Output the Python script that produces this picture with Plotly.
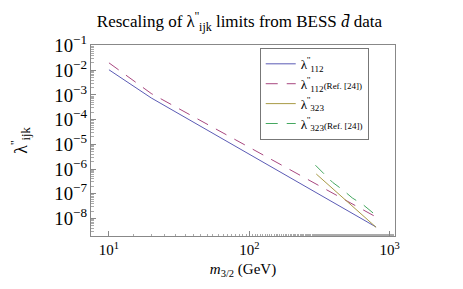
import plotly.graph_objects as go

# λ''112 (this work)
m_112 = [10, 14, 20, 800]
lam_112 = [1.05e-2, 2.9e-3, 7.6e-4, 4.5e-9]
# λ''112 (Ref. [24])
m_112_ref = [10, 14, 20, 800]
lam_112_ref = [2.0e-2, 5.1e-3, 1.15e-3, 1.15e-8]
# λ''323 (this work)
m_323 = [300, 800]
lam_323 = [6.3e-7, 4.4e-9]
# λ''323 (Ref. [24])
m_323_ref = [296, 342, 392, 467, 541, 647, 750, 791]
lam_323_ref = [1.43e-6, 6.3e-7, 2.9e-7, 1.39e-7, 6.8e-8, 3.6e-8, 1.8e-8, 1.4e-8]

x_tickvals = [10, 100, 1000]
x_ticktext = ["10<sup>1</sup>", "10<sup>2</sup>", "10<sup>3</sup>"]

BLUE = "#5b5bb5"
MAG = "#a8477f"
OLIVE = "#a89a45"
GREEN = "#45a860"

SERIF = "Liberation Serif, Times New Roman, serif"

names = [
    "λ<sup>''</sup><sub>112</sub>",
    "λ<sup>''</sup><sub>112</sub><span style='font-size:9px'>(Ref. [24])</span>",
    "λ<sup>''</sup><sub>323</sub>",
    "λ<sup>''</sup><sub>323</sub><span style='font-size:9px'>(Ref. [24])</span>",
]

fig = go.Figure()
fig.add_trace(go.Scatter(x=m_112, y=lam_112, mode="lines", name=names[0],
                         line=dict(color=BLUE, width=1)))
fig.add_trace(go.Scatter(x=m_112_ref, y=lam_112_ref, mode="lines", name=names[1],
                         line=dict(color=MAG, width=1, dash="12px,9px")))
fig.add_trace(go.Scatter(x=m_323, y=lam_323, mode="lines", name=names[2],
                         line=dict(color=OLIVE, width=1)))
fig.add_trace(go.Scatter(x=m_323_ref, y=lam_323_ref, mode="lines", name=names[3],
                         line=dict(color=GREEN, width=1, dash="12px,9px")))

axis_common = dict(
    type="log", exponentformat="power", showgrid=False, zeroline=False,
    showline=True, linecolor="#888888", linewidth=1, mirror=True,
    ticks="inside", ticklen=5, tickcolor="#888888",
    minor=dict(ticks="inside", ticklen=2.5, tickcolor="#aaaaaa", showgrid=False),
    tickfont=dict(family=SERIF, size=15, color="black"),
)

fig.update_layout(
    width=463, height=289,
    margin=dict(l=81, r=76, t=37, b=61),
    paper_bgcolor="white", plot_bgcolor="white",
    font=dict(family=SERIF, color="black"),
    title=dict(text="Rescaling of λ<sup>''</sup><sub>ijk</sub> limits from BESS <i>d\u0304</i> data",
               x=0.5, xanchor="center", y=0.955, yanchor="middle",
               font=dict(family=SERIF, size=17, color="black")),
    xaxis=dict(axis_common, range=[0.872, 3.038],
               tickvals=x_tickvals, ticktext=x_ticktext,
               title=dict(text="<i>m</i><sub>3/2</sub> (GeV)", standoff=6,
                          font=dict(family=SERIF, size=15))),
    yaxis=dict(axis_common, range=[-8.71, -0.976], dtick=1,
               title=dict(text="λ<sup>''</sup><sub>ijk</sub>", standoff=22,
                          font=dict(family=SERIF, size=18))),
    legend=dict(x=0.555, y=0.985, xanchor="left", yanchor="top",
                bordercolor="#777777", borderwidth=1, bgcolor="white",
                font=dict(family=SERIF, size=13), itemwidth=30,
                tracegroupgap=0),
    showlegend=True,
)

fig.write_html("out.html")
